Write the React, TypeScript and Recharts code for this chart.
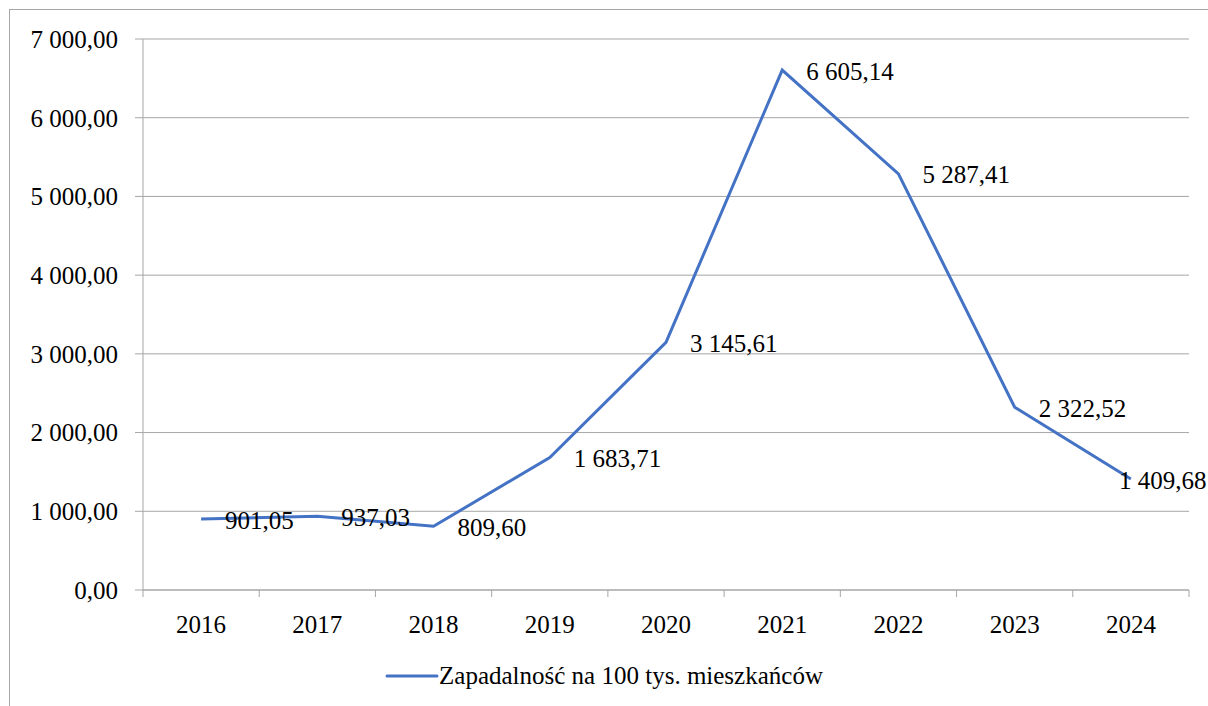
import { CartesianGrid, LabelList, Legend, Line, LineChart, XAxis, YAxis } from "recharts";

const years = ["2016", "2017", "2018", "2019", "2020", "2021", "2022", "2023", "2024"];
const incidence = [901.05, 937.03, 809.6, 1683.71, 3145.61, 6605.14, 5287.41, 2322.52, 1409.68];
const yTicks = [0, 1000, 2000, 3000, 4000, 5000, 6000, 7000];
const seriesName = "Zapadalność na 100 tys. mieszkańców";

const data = years.map((year, i) => ({ year, value: incidence[i] }));

const FONT = "Liberation Serif, Tinos, Times New Roman, DejaVu Serif, serif";
const FS = 25;
const BLUE = "#4472C4";
const GRID = "#a6a6a6";
const W = 1208;
const H = 706;

// 6605.14 -> "6 605,14"
const formatPl = (v: number) => {
    const [int, dec] = v.toFixed(2).split(".");
    return `${int.replace(/\B(?=(\d{3})+(?!\d))/g, " ")},${dec}`;
};

const XTick = (props: any) => {
    const { x, y, payload, width, visibleTicksCount, index } = props;
    const bw = width / visibleTicksCount;
    return (
        <g>
            <line x1={x - bw / 2} x2={x - bw / 2} y1={y - 8} y2={y - 1} stroke={GRID} />
            {index === visibleTicksCount - 1 && (
                <line x1={x + bw / 2} x2={x + bw / 2} y1={y - 8} y2={y - 1} stroke={GRID} />
            )}
            <text x={x} y={y + 26} textAnchor="middle" dominantBaseline="central" style={{ fontFamily: FONT, fontSize: FS }} fill="#000">
                {payload.value}
            </text>
        </g>
    );
};

const PointLabel = (props: any) => {
    const { x, y, value } = props;
    // Excel pushes the last label back inside the chart frame
    const tx = Math.min(x + 24, W - 89);
    return (
        <text x={tx} y={y + 1} dominantBaseline="central" style={{ fontFamily: FONT, fontSize: FS }} fill="#000">
            {formatPl(value)}
        </text>
    );
};

const LegendContent = () => (
    <div style={{ display: "flex", justifyContent: "center", alignItems: "center", fontFamily: FONT, fontSize: FS, color: "#000" }}>
        <svg width={54} height={6}>
            <line x1={2} x2={52} y1={3} y2={3} stroke={BLUE} strokeWidth={3} strokeLinecap="round" />
        </svg>
        <span>{seriesName}</span>
    </div>
);

export default function App() {
    return (
        <div style={{ position: "absolute", left: 0, top: 0, width: W, height: H, overflow: "hidden", background: "#fff", fontFamily: FONT }}>
            <div style={{ position: "absolute", left: 9, top: 9, width: W, height: H, border: `1px solid ${GRID}` }} />
            <div style={{ position: "absolute", left: 0, top: 0 }}>
                <LineChart width={W} height={H} data={data} margin={{ top: 39, right: 19, left: 0, bottom: 0 }} style={{ fontFamily: FONT }}>
                    <CartesianGrid vertical={false} stroke={GRID} strokeWidth={1} />
                    <XAxis
                        dataKey="year"
                        scale="band"
                        height={88}
                        axisLine={{ stroke: GRID }}
                        tickLine={false}
                        tick={<XTick />}
                        interval={0}
                    />
                    <YAxis
                        width={143}
                        domain={[0, 7000]}
                        ticks={yTicks}
                        tickFormatter={formatPl}
                        axisLine={{ stroke: GRID }}
                        tickLine={{ stroke: GRID }}
                        tickSize={8}
                        tickMargin={17}
                        tick={{ fontSize: FS, fill: "#000", style: { fontFamily: FONT } }}
                    />
                    <Legend
                        content={<LegendContent />}
                        wrapperStyle={{ position: "absolute", left: 0, top: 662, width: W }}
                    />
                    <Line
                        dataKey="value"
                        name={seriesName}
                        stroke={BLUE}
                        strokeWidth={3}
                        dot={false}
                        isAnimationActive={false}
                    >
                        <LabelList dataKey="value" content={<PointLabel />} />
                    </Line>
                </LineChart>
            </div>
        </div>
    );
}
